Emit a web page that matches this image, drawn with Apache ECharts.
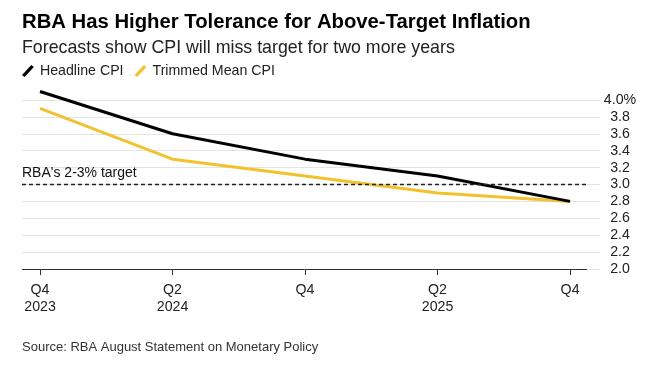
<!DOCTYPE html>
<html><head><meta charset="utf-8">
<script src="https://cdn.jsdelivr.net/npm/echarts@6/dist/echarts.min.js"></script>
<style>html,body{margin:0;padding:0;background:#fff}#c{width:652px;height:370px}</style>
</head><body><div id="c"></div>
<script>
const periods = [0, 1, 2, 3, 4];
const tickLabels = ['Q4\n2023', 'Q2\n2024', 'Q4', 'Q2\n2025', 'Q4'];
const headline = [4.1, 3.6, 3.3, 3.1, 2.8];
const trimmed = [3.9, 3.3, 3.1, 2.9, 2.8];
const target = 3.0;

const FONT = '"Liberation Sans", Arial, Helvetica, sans-serif';
const X_MIN = -0.136, X_MAX = 4.226, X_LINE_END = 4.128;
const chart = echarts.init(document.getElementById('c'), null, {renderer: 'canvas'});
const slash = 'path://M0,9.4 L8.6,0.2 L11,2.1 L2.4,11.3 Z';
chart.setOption({
  animation: false,
  textStyle: {fontFamily: FONT},
  title: [
    {text: 'RBA Has Higher Tolerance for Above-Target Inflation', left: 17, top: 7,
     textStyle: {fontFamily: FONT, fontSize: 20.3, fontWeight: 'bold', color: '#000'}},
    {text: 'Forecasts show CPI will miss target for two more years', left: 17, top: 34,
     textStyle: {fontFamily: FONT, fontSize: 17.8, fontWeight: 'normal', color: '#222'}},
    {text: 'Source: RBA August Statement on Monetary Policy', left: 17, top: 336,
     textStyle: {fontFamily: FONT, fontSize: 13, fontWeight: 'normal', color: '#333'}}
  ],
  legend: {
    left: 17, top: 59, itemWidth: 14, itemHeight: 12, itemGap: 11,
    textStyle: {fontFamily: FONT, fontSize: 14.2, color: '#222'},
    data: [
      {name: 'Headline CPI', icon: slash, itemStyle: {color: '#000'}},
      {name: 'Trimmed Mean CPI', icon: slash, itemStyle: {color: '#f2c12e'}}
    ]
  },
  grid: {left: 22, right: 52, top: 100, bottom: 101},
  xAxis: {
    type: 'value', min: X_MIN, max: X_MAX,
    axisLine: {show: false},
    splitLine: {show: false},
    axisTick: {show: true, customValues: periods, length: 6, lineStyle: {color: '#333', width: 1}},
    axisLabel: {show: true, customValues: periods, margin: 12, fontSize: 14.2, color: '#222', lineHeight: 17.5,
      fontFamily: FONT, formatter: v => tickLabels[Math.round(v)]}
  },
  yAxis: {
    type: 'value', position: 'right', min: 2, max: 4, interval: 0.2,
    axisLine: {show: false}, axisTick: {show: false},
    splitLine: {show: true, lineStyle: {color: '#e4e4e4', width: 1}},
    axisLabel: {margin: 20, align: 'center', fontSize: 14.2, color: '#222', fontFamily: FONT,
      formatter: v => (Math.abs(v - 4) < 1e-6 ? '4.0%' : v.toFixed(1))}
  },
  series: [
    {name: 'Trimmed Mean CPI', type: 'line', data: periods.map((p, i) => [p, trimmed[i]]),
     clip: false, showSymbol: false, lineStyle: {color: '#f2c12e', width: 3}, itemStyle: {color: '#f2c12e'}, z: 3,
     markLine: {silent: true, symbol: 'none', animation: false,
       data: [
         [{coord: [X_MIN, 2], lineStyle: {color: '#333', width: 1, type: 'solid'}}, {coord: [X_LINE_END, 2]}],
         [{coord: [X_MIN, target], lineStyle: {color: '#222', width: 1.3, type: [4, 3]},
           label: {show: true, position: 'insideStartTop', formatter: "RBA's 2-3% target", fontSize: 14,
             color: '#111', fontFamily: FONT, distance: [0, 4]}}, {coord: [X_LINE_END, target]}]
       ],
       label: {show: false}}},
    {name: 'Headline CPI', type: 'line', data: periods.map((p, i) => [p, headline[i]]),
     clip: false, showSymbol: false, lineStyle: {color: '#000', width: 3}, itemStyle: {color: '#000'}, z: 4}
  ]
});
</script></body></html>
